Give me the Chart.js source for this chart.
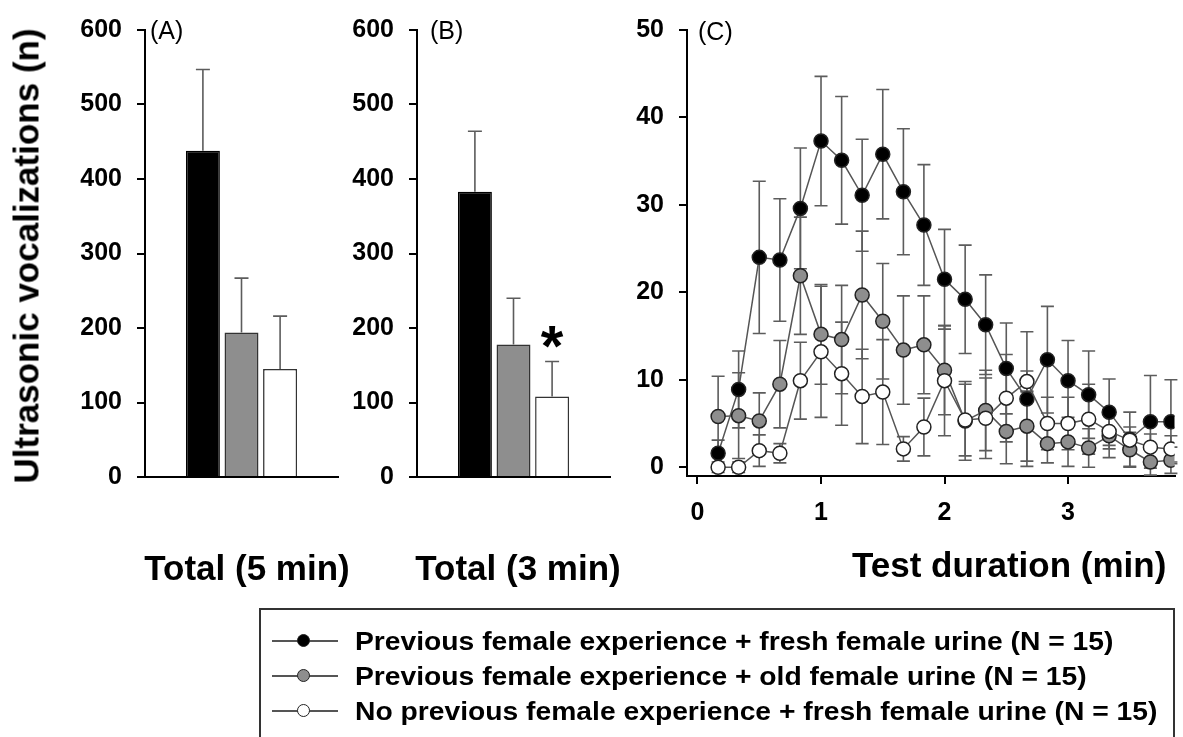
<!DOCTYPE html>
<html>
<head>
<meta charset="utf-8">
<script src="https://cdn.jsdelivr.net/npm/chart.js@4.4.1/dist/chart.umd.min.js"></script>
<style>
  html, body { margin: 0; padding: 0; background: #fff; }
  #wrap { position: relative; width: 1183px; height: 737px; overflow: hidden;
          font-family: "Liberation Sans", Arial, Helvetica, sans-serif; color: #000; }
  canvas { position: absolute; left: 0; top: 0; }
  .title { position: absolute; white-space: nowrap; font-weight: bold; font-size: 35px; line-height: 1; }
  .panel { position: absolute; white-space: nowrap; font-size: 25px; line-height: 1; transform: translateY(-50%); }
  #legend { position: absolute; left: 259px; top: 608px; width: 916px; height: 140px;
            border: 2px solid #333; box-sizing: border-box; }
  .row { position: absolute; left: 0; height: 0; }
  .row .ln { position: absolute; left: 272px; width: 66px; top: -1px; border-top: 2px solid #555; }
  .row .dot { position: absolute; left: 297px; top: -7px; width: 11px; height: 11px;
              border: 1.5px solid #222; border-radius: 50%; }
  .row .txt { position: absolute; left: 355px; top: 0; white-space: nowrap; font-weight: bold;
              font-size: 25px; line-height: 1; transform-origin: left center;
              transform: translateY(-50%) scaleX(1.13); }
</style>
</head>
<body>
<div id="wrap">
  <canvas id="cA" width="1183" height="737"></canvas>
  <canvas id="cB" width="1183" height="737"></canvas>
  <canvas id="cC" width="1183" height="737"></canvas>

  <div class="title" style="left:26px;top:256px;transform:translate(-50%,-50%) rotate(-90deg);font-size:35px;">Ultrasonic vocalizations (n)</div>
  <div class="title" style="left:247px;top:567px;transform:translate(-50%,-50%);">Total (5 min)</div>
  <div class="title" style="left:518px;top:567px;transform:translate(-50%,-50%);">Total (3 min)</div>
  <div class="title" style="left:852px;top:564px;transform:translateY(-50%);">Test duration (min)</div>

  <div class="panel" style="left:150px;top:30px;">(A)</div>
  <div class="panel" style="left:430px;top:30px;">(B)</div>
  <div class="panel" style="left:698px;top:31px;">(C)</div>

  <div id="legend"></div>
</div>

<script>
// groups, in legend order
const groups = [
  'Previous female experience + fresh female urine (N = 15)',
  'Previous female experience + old female urine (N = 15)',
  'No previous female experience + fresh female urine (N = 15)'
];
const fills = ['#000000', '#8e8e8e', '#ffffff'];

// panel A / B: totals (mean, SEM)
const total5 = [438, 194, 145];
const total5Err = [109, 73, 71];
const total3 = [383, 178, 108];
const total3Err = [81, 62, 47];
const barTicks = [0, 100, 200, 300, 400, 500, 600];

// panel C: 10 s bins (min)
const times = [0.167, 0.333, 0.5, 0.667, 0.833, 1.0, 1.167, 1.333, 1.5, 1.667, 1.833, 2.0,
               2.167, 2.333, 2.5, 2.667, 2.833, 3.0, 3.167, 3.333, 3.5, 3.667, 3.833];
const freshExp = [1.6, 8.9, 24.0, 23.7, 29.6, 37.3, 35.1, 31.1, 35.8, 31.5, 27.7, 21.5,
                  19.2, 16.3, 11.3, 7.8, 12.3, 9.9, 8.3, 6.3, 3.2, 5.2, 5.2];
const freshExpErr = [1.5, 4.4, 8.7, 7.0, 6.9, 7.4, 7.3, 6.4, 7.4, 7.2, 6.9, 5.7,
                     6.2, 5.7, 5.2, 7.7, 6.1, 4.6, 5.0, 3.8, 3.1, 5.3, 4.8];
const oldExp = [5.8, 5.9, 5.3, 9.5, 21.9, 15.2, 14.6, 19.7, 16.7, 13.4, 14.0, 11.1,
                5.3, 6.5, 4.1, 4.7, 2.7, 2.9, 2.2, 3.6, 2.0, 0.6, 0.8];
const oldExpErr = [4.6, 4.9, 3.2, 5.0, 6.7, 5.7, 6.2, 7.3, 6.6, 6.2, 5.6, 5.1,
                   4.5, 4.6, 3.7, 4.0, 2.2, 2.8, 2.2, 2.5, 2.0, 1.5, 1.5];
const freshNaive = [0.0, 0.0, 1.9, 1.6, 9.9, 13.2, 10.7, 8.1, 8.6, 2.1, 4.6, 9.9,
                    5.4, 5.6, 7.9, 9.8, 5.0, 5.0, 5.5, 4.1, 3.1, 2.3, 2.1];
const freshNaiveErr = [0.6, 0.6, 1.8, 1.1, 4.4, 7.5, 5.9, 5.4, 6.0, 1.4, 3.3, 6.3,
                       4.1, 4.6, 5.0, 1.2, 3.0, 3.0, 4.0, 2.0, 1.5, 1.5, 1.5];
const lineYTicks = [0, 10, 20, 30, 40, 50];
const lineXTicks = [0, 1, 2, 3];

const FONT = '"Liberation Sans", Arial, Helvetica, sans-serif';

// error bars: behind the markers for lines, on top for bars (upper half only)
function drawErrors(chart, kind) {
  const ctx = chart.ctx;
  const y = chart.scales.y;
  chart.data.datasets.forEach((ds, i) => {
    if (!ds.errors) return;
    const meta = chart.getDatasetMeta(i);
    if (meta.type !== kind) return;
    ctx.save();
    ctx.strokeStyle = '#5c5c5c';
    ctx.lineWidth = 1.6;
    meta.data.forEach((el, j) => {
      const v = kind === 'bar' ? ds.data[j] : ds.data[j].y;
      const e = ds.errors[j];
      const top = y.getPixelForValue(v + e);
      const bot = kind === 'bar' ? el.y : y.getPixelForValue(v - e);
      const half = kind === 'bar' ? 7 : 6.5;
      ctx.beginPath();
      ctx.moveTo(el.x, bot); ctx.lineTo(el.x, top);
      ctx.moveTo(el.x - half, top); ctx.lineTo(el.x + half, top);
      if (kind !== 'bar') { ctx.moveTo(el.x - half, bot); ctx.lineTo(el.x + half, bot); }
      ctx.stroke();
    });
    ctx.restore();
  });
}
const errorBars = {
  id: 'errorBars',
  beforeDatasetsDraw(chart) { drawErrors(chart, 'line'); },
  afterDatasetsDraw(chart) { drawErrors(chart, 'bar'); }
};

// significance star over the naive group in (B)
const starPlugin = {
  id: 'star',
  afterDatasetsDraw(chart) {
    const el = chart.getDatasetMeta(2).data[0];
    const top = chart.scales.y.getPixelForValue(total3[2] + total3Err[2]);
    const ctx = chart.ctx;
    ctx.save();
    ctx.font = 'bold 58px ' + FONT;
    ctx.fillStyle = '#000';
    ctx.textAlign = 'center';
    ctx.textBaseline = 'alphabetic';
    ctx.fillText('*', el.x, top + 4);
    ctx.restore();
  }
};

const axisBorder = { display: true, color: '#000', width: 2 };
const tickFont = { family: FONT, size: 25, weight: 'bold' };

function barPanel(id, vals, errs, left, right, bottom, extra) {
  return new Chart(document.getElementById(id), {
    type: 'bar',
    data: {
      labels: [''],
      datasets: groups.map((g, k) => ({
        label: g,
        data: [vals[k]],
        errors: [errs[k]],
        backgroundColor: fills[k],
        borderColor: k === 0 ? '#000' : '#333',
        borderWidth: 1.5,
        categoryPercentage: 0.6,
        barPercentage: 0.88
      }))
    },
    options: {
      responsive: false,
      animation: false,
      layout: { padding: { left: left - 80, right: 1183 - right, top: 23, bottom: 737 - bottom } },
      plugins: { legend: { display: false }, tooltip: { enabled: false } },
      scales: {
        x: {
          ticks: { display: false },
          grid: { display: false },
          border: axisBorder,
          afterFit(s) { s.height = 0; }
        },
        y: {
          min: 0, max: 600,
          afterBuildTicks(s) { s.ticks = barTicks.map(v => ({ value: v })); },
          afterFit(s) { s.width = 80; },
          ticks: { color: '#000', font: tickFont, padding: 15 },
          grid: { drawOnChartArea: false, drawTicks: true, tickLength: 8, color: '#000', lineWidth: 2 },
          border: axisBorder
        }
      }
    },
    plugins: extra
  });
}

barPanel('cA', total5, total5Err, 145, 338, 477, [errorBars]);
barPanel('cB', total3, total3Err, 417, 610, 477, [errorBars, starPlugin]);

const series = [freshExp, oldExp, freshNaive];
const seriesErr = [freshExpErr, oldExpErr, freshNaiveErr];

new Chart(document.getElementById('cC'), {
  type: 'line',
  data: {
    datasets: series.map((vals, k) => ({
      label: groups[k],
      data: times.map((t, i) => ({ x: t, y: vals[i] })),
      errors: seriesErr[k],
      borderColor: '#555',
      borderWidth: 1.5,
      pointRadius: 7,
      pointBorderWidth: 1.5,
      pointBorderColor: '#222',
      pointBackgroundColor: fills[k],
      tension: 0,
      order: 2 - k
    }))
  },
  options: {
    responsive: false,
    animation: false,
    layout: { padding: { left: 687 - 70, right: 0, top: 24, bottom: 737 - 476 - 60 } },
    plugins: { legend: { display: false }, tooltip: { enabled: false } },
    scales: {
      x: {
        type: 'linear',
        min: -0.085, max: 3.862,
        afterBuildTicks(s) { s.ticks = lineXTicks.map(v => ({ value: v })); },
        afterFit(s) { s.height = 60; },
        ticks: { color: '#000', font: tickFont, padding: 14 },
        grid: { drawOnChartArea: false, drawTicks: true, tickLength: 8, color: '#000', lineWidth: 2 },
        border: axisBorder
      },
      y: {
        min: -1, max: 50,
        afterBuildTicks(s) { s.ticks = lineYTicks.map(v => ({ value: v })); },
        afterFit(s) { s.width = 70; },
        ticks: { color: '#000', font: tickFont, padding: 15 },
        grid: { drawOnChartArea: false, drawTicks: true, tickLength: 8, color: '#000', lineWidth: 2 },
        border: axisBorder
      }
    }
  },
  plugins: [errorBars]
});

// legend rows
const wrap = document.getElementById('wrap');
const rowY = [641, 676, 711];
groups.forEach((g, k) => {
  const row = document.createElement('div');
  row.className = 'row';
  row.style.top = rowY[k] + 'px';
  row.innerHTML = '<div class="ln"></div><div class="dot" style="background:' + fills[k] + '"></div>' +
                  '<div class="txt"></div>';
  row.querySelector('.txt').textContent = g;
  wrap.appendChild(row);
});
</script>
</body>
</html>
